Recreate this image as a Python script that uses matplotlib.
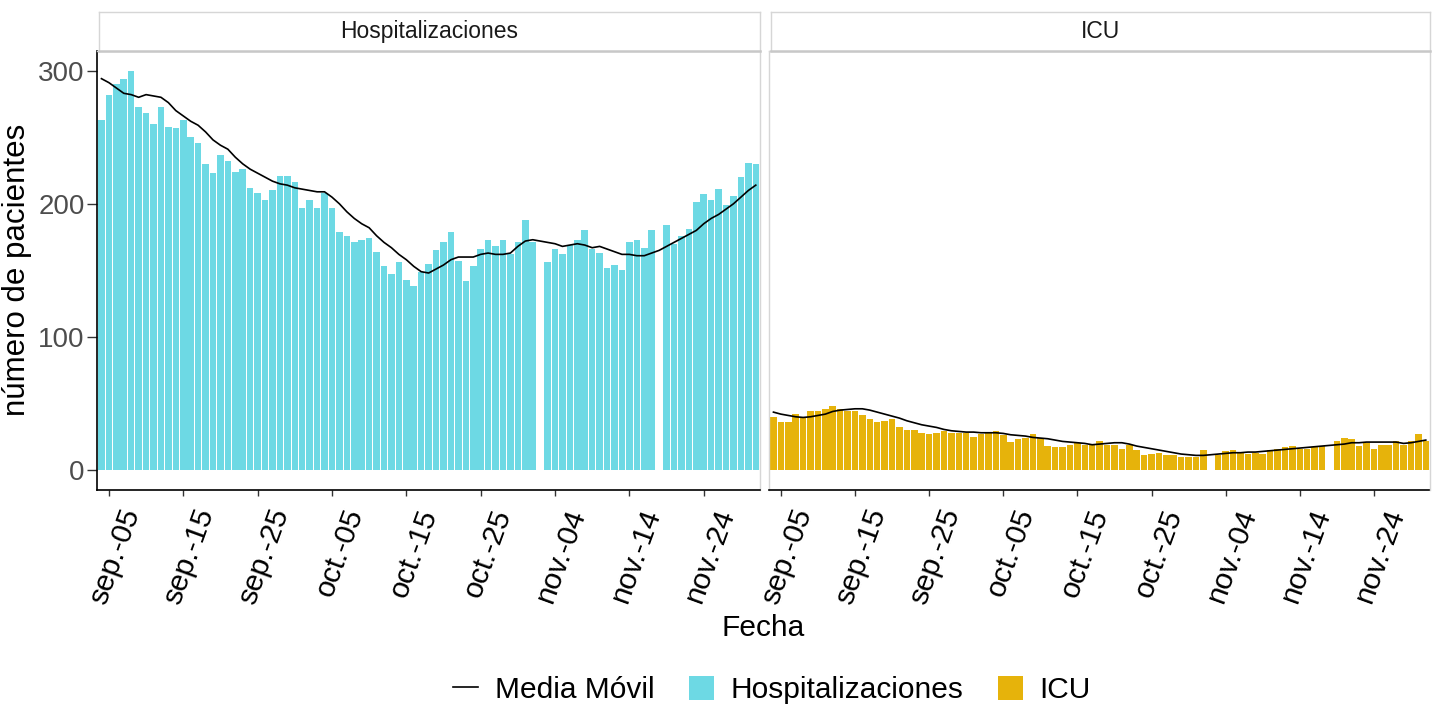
"""
Hospitalizaciones e ICU diarias con media móvil (dos paneles)
"""

import numpy as np
import pandas as pd
import matplotlib
matplotlib.use("Agg")
import matplotlib.pyplot as plt
import matplotlib.transforms as mtransforms
from matplotlib.lines import Line2D
from matplotlib.patches import Patch

plt.rcParams['font.family'] = ['Liberation Sans', 'DejaVu Sans']

nan = np.nan

# datos (sep-04 .. dic-01), huecos en nov-02 y nov-18
fechas = pd.date_range("2020-09-04", "2020-12-01", freq="D")

hosp = [263, 282, 290, 294, 300, 273, 268, 260, 273, 258,
        257, 263, 250, 246, 230, 223, 237, 232, 224, 226,
        212, 208, 203, 210, 221, 221, 216, 197, 203, 197,
        208, 197, 179, 176, 171, 173, 174, 164, 153, 147,
        156, 143, 138, 149, 155, 165, 171, 179, 157, 142,
        153, 166, 173, 168, 173, 162, 171, 188, 171, nan,
        156, 166, 162, 169, 173, 180, 166, 163, 152, 154,
        150, 171, 173, 167, 180, nan, 184, 170, 176, 181,
        201, 207, 203, 211, 199, 206, 220, 231, 230]

icu = [40, 36, 36, 42, 40, 44, 44, 46, 48, 46,
       44, 44, 41, 38, 36, 37, 38, 32, 30, 30,
       28, 27, 28, 29, 28, 28, 28, 25, 27, 28,
       29, 26, 21, 23, 24, 27, 24, 18, 17, 17,
       19, 20, 19, 19, 22, 19, 19, 16, 19, 15,
       11, 12, 13, 11, 11, 10, 10, 10, 15, nan,
       11, 14, 15, 13, 12, 13, 12, 15, 16, 17,
       18, 16, 16, 17, 18, nan, 22, 24, 23, 18,
       20, 16, 19, 19, 22, 19, 22, 27, 22]

hosp_mm = [294, 291, 287, 283, 282, 280, 282, 281, 280, 276,
           270, 266, 262, 259, 254, 248, 244, 241, 235, 230,
           226, 223, 220, 217, 215, 214, 212, 211, 210, 209,
           209, 205, 200, 194, 189, 185, 182, 176, 171, 167,
           162, 158, 153, 149, 148, 151, 154, 158, 160, 160,
           160, 162, 163, 162, 162, 163, 168, 172, 173, 172,
           171, 170, 168, 169, 170, 169, 167, 168, 166, 164,
           162, 162, 161, 161, 163, 165, 168, 171, 174, 177,
           180, 185, 189, 192, 196, 200, 205, 210, 214]

icu_mm = [43.5, 42, 41, 40, 39.5, 40, 41, 42, 44, 45,
          45.5, 46, 46, 45, 43.5, 42, 40.5, 39, 37, 35.5,
          34, 33, 32, 30.5, 29.5, 29, 28.5, 28.5, 28, 28,
          28, 27.5, 26.5, 26, 25.5, 24.5, 24, 23.5, 22.5, 21.5,
          21, 20.5, 20, 19, 19.5, 20, 20.5, 20.5, 19.5, 18,
          17, 16, 15, 14, 13, 12, 11.5, 11, 11, 11.5,
          12, 12.5, 13, 13, 13.5, 13.5, 14, 14.5, 15, 15.5,
          16, 16.5, 17, 17.5, 18, 18.5, 19, 19.5, 20.5, 20.5,
          21, 21, 21, 21, 21, 20, 20.5, 21.5, 22.5]

tick_fechas = pd.date_range("2020-09-05", "2020-11-24", freq="10D")
tick_labels = ["sep.-05", "sep.-15", "sep.-25", "oct.-05", "oct.-15",
               "oct.-25", "nov.-04", "nov.-14", "nov.-24"]

paneles = ["Hospitalizaciones", "ICU"]
colores = {"Hospitalizaciones": "#6DD9E4", "ICU": "#E6B30B"}
borde = "#D6D6D6"

W, H = 1435, 706
fig = plt.figure(figsize=(W / 100, H / 100), dpi=100)


def px_axes(x0, y0, x1, y1):
    return fig.add_axes([x0 / W, 1 - y1 / H, (x1 - x0) / W, (y1 - y0) / H])


posiciones = [(97, 759.5), (769, 1429.5)]
series = {"Hospitalizaciones": (hosp, hosp_mm), "ICU": (icu, icu_mm)}
# etiquetas del eje x a mano: desplazadas como en ggplot (angle=70, hjust=1)
desplaza = mtransforms.ScaledTranslation(10 / 100, -15 / 100, fig.dpi_scale_trans)

for i, (nombre, (x0, x1)) in enumerate(zip(paneles, posiciones)):
    ax = px_axes(x0, 50.7, x1, 490)
    vals, mm = series[nombre]
    ax.bar(fechas, vals, width=0.88, color=colores[nombre], linewidth=0)
    ax.plot(fechas, mm, color="black", lw=1.2)
    ax.set_xlim(fechas[0] - pd.Timedelta(days=0.6), fechas[-1] + pd.Timedelta(days=0.5))
    ax.set_ylim(-15, 315)

    ax.set_xticks(tick_fechas)
    ax.set_xticklabels([])
    ax.tick_params(axis="x", length=4, width=1, color="#333333")
    for d, lab in zip(tick_fechas, tick_labels):
        ax.text(d, 0, lab, transform=ax.get_xaxis_transform() + desplaza,
                rotation=70, ha="right", va="top", rotation_mode="anchor",
                fontsize=21.5, color="black", clip_on=False)

    for s in ["top", "right"]:
        ax.spines[s].set_color(borde)
        ax.spines[s].set_linewidth(1.0)
    ax.spines["bottom"].set_color("black")
    ax.spines["bottom"].set_linewidth(1.2)

    if i == 0:
        ax.set_yticks([0, 100, 200, 300])
        ax.tick_params(axis="y", length=7, width=1, color="#333333",
                       labelsize=20, labelcolor="#4D4D4D", pad=2)
        ax.spines["left"].set_color("black")
        ax.spines["left"].set_linewidth(1.2)
        ax.set_ylabel("número de pacientes", fontsize=22.5, labelpad=4)
    else:
        ax.set_yticks([])
        ax.spines["left"].set_color(borde)
        ax.spines["left"].set_linewidth(1.0)

    # franja con el nombre del panel
    st = px_axes(x0 + 2, 12, x1, 50.7)
    st.set_xticks([])
    st.set_yticks([])
    for s in st.spines.values():
        s.set_color(borde)
        s.set_linewidth(1.0)
    st.spines["bottom"].set_linewidth(1.8)
    st.spines["bottom"].set_color("#C8C8C8")
    st.text(0.5, 0.5, nombre, ha="center", va="center", fontsize=16.5,
            color="#1A1A1A", transform=st.transAxes)

fig.text(763 / W, 1 - 628 / H, "Fecha", ha="center", va="center", fontsize=21.5)

handles = [Line2D([], [], color="black", lw=1.2),
           Patch(facecolor=colores["Hospitalizaciones"], edgecolor="none"),
           Patch(facecolor=colores["ICU"], edgecolor="none")]
fig.legend(handles, ["Media Móvil", "Hospitalizaciones", "ICU"],
           loc="center", bbox_to_anchor=(772 / W, 1 - 690 / H), ncol=3,
           frameon=False, fontsize=21.5, handlelength=0.85, handleheight=0.9,
           handletextpad=0.55, columnspacing=1.15)

fig.savefig("out.png", dpi=100)
